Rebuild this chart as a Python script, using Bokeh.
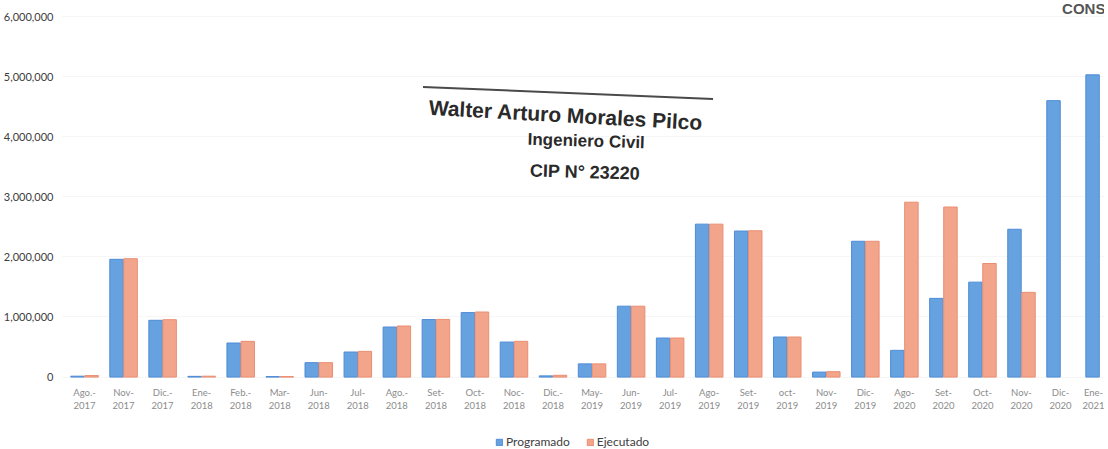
from bokeh.plotting import figure
from bokeh.models import (ColumnDataSource, Range1d, FixedTicker, Legend, LegendItem,
                          Label, Arrow, NumeralTickFormatter, LinearAxis)
from bokeh.transform import dodge
from bokeh.core.properties import value
from bokeh.embed import file_html
from bokeh.resources import INLINE

meses = ["Ago.-", "Nov-", "Dic.-", "Ene-", "Feb.-", "Mar-", "Jun-", "Jul-", "Ago.-",
         "Set-", "Oct-", "Noc-", "Dic.-", "May-", "Jun-", "Jul-", "Ago-", "Set-",
         "oct-", "Nov-", "Dic-", "Ago-", "Set-", "Oct-", "Nov-", "Dic-", "Ene-"]
anios = ["2017", "2017", "2017", "2018", "2018", "2018", "2018", "2018", "2018",
         "2018", "2018", "2018", "2018", "2019", "2019", "2019", "2019", "2019",
         "2019", "2019", "2019", "2020", "2020", "2020", "2020", "2020", "2021"]
programado = [15000, 1960000, 945000, 12000, 567000, 8000, 240000, 417000, 833000,
              957000, 1073000, 583000, 20000, 220000, 1180000, 650000, 2545000, 2430000,
              667000, 83000, 2260000, 445000, 1310000, 1580000, 2460000, 4600000, 5030000]
ejecutado = [25000, 1970000, 955000, 15000, 595000, 8000, 240000, 428000, 850000,
             960000, 1083000, 595000, 30000, 220000, 1180000, 650000, 2545000, 2435000,
             667000, 90000, 2260000, 2910000, 2830000, 1890000, 1410000, None, None]
y_ticks = [0, 1000000, 2000000, 3000000, 4000000, 5000000, 6000000]

idx = list(range(len(meses)))
etiquetas = {i: f"{m}\n{a}" for i, m, a in zip(idx, meses, anios)}
src = ColumnDataSource(dict(x=idx, prog=programado,
                            ejec=[float("nan") if v is None else v for v in ejecutado]))

p = figure(frame_width=1043, frame_height=449, output_backend="svg", toolbar_location=None,
           x_range=Range1d(-0.59, 26.126), y_range=Range1d(-1205000, 6266667),
           x_axis_location=None,
           min_border_left=57, min_border_right=0, min_border_top=0, min_border_bottom=0)
p.outline_line_color = None
p.background_fill_color = "white"

r1 = p.vbar(x=dodge("x", -0.18, range=p.x_range), top="prog", width=0.345, source=src,
            fill_color="#66A2DF", line_color="#4F8CD6", line_width=1)
r2 = p.vbar(x=dodge("x", 0.18, range=p.x_range), top="ejec", width=0.345, source=src,
            fill_color="#F3A58B", line_color="#E98E72", line_width=1)

# x axis drawn at value 0
xaxis = LinearAxis(fixed_location=0, ticker=FixedTicker(ticks=idx),
                   major_label_overrides=etiquetas,
                   major_label_text_font="Lato", major_label_text_font_size="9.5px",
                   major_label_text_color="#8c8c8c", major_label_standoff=10,
                   major_tick_out=0, major_tick_in=0, axis_line_color=None,
                   major_tick_line_color=None, minor_tick_line_color=None)
p.add_layout(xaxis, "below")

p.yaxis.ticker = FixedTicker(ticks=y_ticks)
p.yaxis.formatter = NumeralTickFormatter(format="0,0")
p.yaxis.major_label_text_font = "Lato"
p.yaxis.major_label_text_font_size = "11px"
p.yaxis.major_label_text_color = "#3c3c3c"
p.yaxis.major_label_standoff = 8
p.yaxis.major_tick_out = 0
p.yaxis.major_tick_in = 0
p.yaxis.axis_line_color = None
p.yaxis.major_tick_line_color = None
p.yaxis.minor_tick_line_color = None

p.xgrid.grid_line_color = None
p.ygrid.grid_line_color = "#f6f6f6"
p.ygrid.ticker = FixedTicker(ticks=y_ticks)

legend = Legend(items=[LegendItem(label="Programado", renderers=[r1]),
                       LegendItem(label="Ejecutado", renderers=[r2])],
                orientation="horizontal", location=(434, 0),
                label_text_font="Lato", label_text_font_size="12px",
                label_text_color="#404040", glyph_width=8, glyph_height=8,
                label_standoff=3, spacing=16, padding=2, margin=0,
                border_line_color=None, background_fill_alpha=0)
p.add_layout(legend, "center")

# signature stamp annotations
firma = "#2a2a2a"
p.add_layout(Arrow(end=None, x_start=8.67, y_start=4828000, x_end=16.10, y_end=4628000,
                   line_color="#4a4a4a", line_width=2))
p.add_layout(Label(x=12.33, y=4362000, text="Walter Arturo Morales Pilco", angle=-0.056,
                   text_align="center", text_baseline="middle",
                   text_font="Liberation Sans", text_font_style="bold",
                   text_font_size="21px", text_color=firma))
p.add_layout(Label(x=12.85, y=3928000, text="Ingeniero Civil", angle=-0.03,
                   text_align="center", text_baseline="middle",
                   text_font="Liberation Sans", text_font_style="bold",
                   text_font_size="17px", text_color=firma))
p.add_layout(Label(x=12.82, y=3412000, text="CIP N° 23220", angle=-0.03,
                   text_align="center", text_baseline="middle",
                   text_font="Liberation Sans", text_font_style="bold",
                   text_font_size="18px", text_color=firma))
p.add_layout(Label(x=25.04, y=6128000, text="CONS", text_align="left",
                   text_baseline="middle", text_font="Liberation Sans",
                   text_font_style="bold", text_font_size="15px", text_color="#555555"))

open("out.html", "w").write(file_html(p, INLINE))
